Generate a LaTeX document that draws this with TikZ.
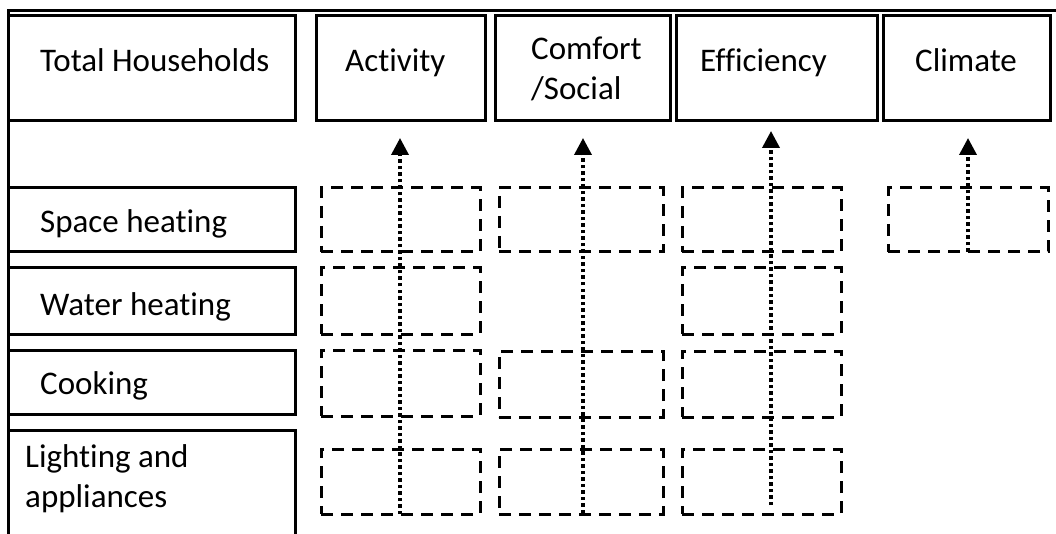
\documentclass[tikz,border=0pt]{standalone}
\usepackage{fontspec}
\setmainfont{Carlito}[Ligatures={NoCommon}]
\usetikzlibrary{arrows.meta}
\begin{document}
\begin{tikzpicture}[x=1pt,y=-1pt,
  solidbox/.style={draw, line width=3pt, inner sep=0pt},
  dashbox/.style={draw, line width=3pt, inner sep=0pt, dash pattern=on 12pt off 8pt},
  lbl/.style={anchor=base west, inner sep=0pt, font=\fontsize{33}{40}\selectfont},
  uparrow/.style={line width=3.6pt, dash pattern=on 3.5pt off 3pt, -{Triangle[width=17pt,length=17pt]}}]
\useasboundingbox (0,0) rectangle (1056,534);
\fill[white] (0,0) rectangle (1056,534);
% outer frame
\draw[line width=3pt] (1060,11) -- (8,11) -- (8,540);
% top boxes
\node[solidbox, minimum width=287pt, minimum height=105pt] (th)  at (151.5,68.5) {};
\node[solidbox, minimum width=169pt, minimum height=105pt] (act) at (400.5,68.5) {};
\node[solidbox, minimum width=175pt, minimum height=105pt] (com) at (582.5,68.5) {};
\node[solidbox, minimum width=201pt, minimum height=105pt] (eff) at (776.5,68.5) {};
\node[solidbox, minimum width=167pt, minimum height=105pt] (cli) at (966.5,68.5) {};
\node[lbl] (tht) at (40,72) {Total Households};
\node[lbl] (actt) at (345,72) {Activity};
\node[lbl] (comt1) at (531,60) {Comfort};
\node[lbl] (comt2) at (531,100) {/Social};
\node[lbl] (efft) at (700,72) {Efficiency};
\node[lbl] (clit) at (915,72) {Climate};
% left column
\node[solidbox, minimum width=287pt, minimum height=64pt] (sh) at (151.5,220) {};
\node[solidbox, minimum width=287pt, minimum height=66pt] (wh) at (151.5,301) {};
\node[solidbox, minimum width=287pt, minimum height=64pt] (co) at (151.5,382) {};
\node[solidbox, minimum width=287pt, minimum height=115pt] (la) at (151.5,487.5) {};
\node[lbl] (sht) at (40,233) {Space heating};
\node[lbl] (wht) at (40,315) {Water heating};
\node[lbl] (cot) at (40,394) {Cooking};
\node[lbl] (lat1) at (25,467) {Lighting and};
\node[lbl] (lat2) at (25,507) {appliances};
% dashed boxes
\node[dashbox, minimum width=159pt, minimum height=64pt] (a1) at (400.5,220) {};
\node[dashbox, minimum width=159pt, minimum height=66pt] (a2) at (400.5,301) {};
\node[dashbox, minimum width=159pt, minimum height=66pt] (a3) at (400.5,383) {};
\node[dashbox, minimum width=159pt, minimum height=65pt] (a4) at (400.5,481.5) {};
\node[dashbox, minimum width=164pt, minimum height=64pt] (c1) at (581,220) {};
\node[dashbox, minimum width=164pt, minimum height=66pt] (c3) at (581,384) {};
\node[dashbox, minimum width=164pt, minimum height=65pt] (c4) at (581,481.5) {};
\node[dashbox, minimum width=159pt, minimum height=64pt] (e1) at (761.5,220) {};
\node[dashbox, minimum width=159pt, minimum height=66pt] (e2) at (761.5,301) {};
\node[dashbox, minimum width=159pt, minimum height=66pt] (e3) at (761.5,384) {};
\node[dashbox, minimum width=159pt, minimum height=65pt] (e4) at (761.5,481.5) {};
\node[dashbox, minimum width=160pt, minimum height=64pt] (k1) at (968,220) {};
% arrows
\coordinate (as) at (400,514); \coordinate (at) at (400,138);
\coordinate (cs) at (583,513); \coordinate (ct) at (583,138);
\coordinate (es) at (771,505); \coordinate (et) at (771,131);
\coordinate (ks) at (968,252); \coordinate (kt) at (968,138);
\draw[uparrow] (as) -- (at);
\draw[uparrow] (cs) -- (ct);
\draw[uparrow] (es) -- (et);
\draw[uparrow] (ks) -- (kt);
\end{tikzpicture}
\end{document}
